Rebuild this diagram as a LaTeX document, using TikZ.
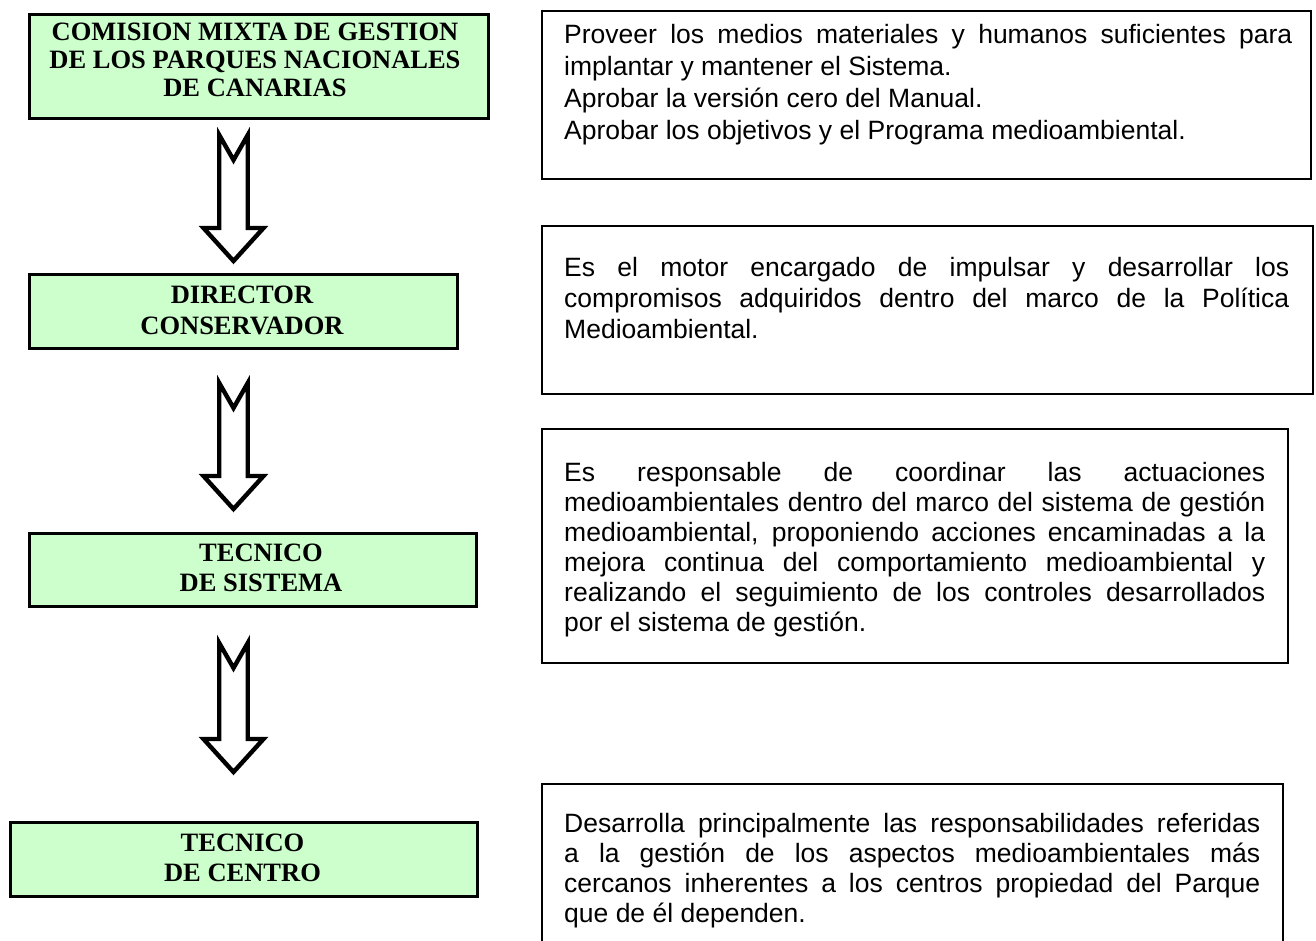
\documentclass[tikz,border=0pt]{standalone}
\usepackage{fontspec}
\setmainfont{Liberation Serif}
\newfontfamily\arialf{Liberation Sans}
\usetikzlibrary{calc}
\tolerance=10000 \hbadness=10000 \hyphenpenalty=10000 \exhyphenpenalty=10000
\definecolor{boxgreen}{HTML}{CCFFCC}
\newcommand\bodyfont[1]{\arialf\fontsize{26.5}{#1}\selectfont\tolerance=10000\hyphenpenalty=10000}
\newcommand\titlefont[1]{\bfseries\fontsize{26.5}{#1}\selectfont}
\tikzset{
  greenbox/.style={draw=black, line width=2.6pt, fill=boxgreen, rectangle, inner sep=0pt, anchor=north west},
  whitebox/.style={draw=black, line width=1.9pt, fill=white, rectangle, inner sep=0pt, anchor=north west},
  titletext/.style={align=center, inner sep=0pt},
  bodytext/.style={align=justify, inner sep=0pt, anchor=base west},
  blockarrow/.style={draw=black, line width=4.4pt, fill=white, line join=miter, miter limit=10},
}
\begin{document}
\begin{tikzpicture}[x=1pt, y=-1pt]
\useasboundingbox (0,0) rectangle (1316,940);
\clip (0,0) rectangle (1316,940);
\fill[white] (0,0) rectangle (1316,940);

% left boxes
\node[greenbox, minimum width=459pt, minimum height=104pt] (comision) at (28,13) {};
\node[greenbox, minimum width=428pt, minimum height=74pt] (director) at (28,273) {};
\node[greenbox, minimum width=447pt, minimum height=73pt] (sistema) at (28,532) {};
\node[greenbox, minimum width=467pt, minimum height=74pt] (centro) at (9,821) {};

\node[titletext, font=\titlefont{28.3}] (comisiontxt) at (255,60) {COMISION MIXTA DE GESTION\\DE LOS PARQUES NACIONALES\\DE CANARIAS};
\node[titletext, font=\titlefont{31}] (directortxt) at (242,310.5) {DIRECTOR\\CONSERVADOR};
\node[titletext, font=\titlefont{30}] (sistematxt) at (261,568) {TECNICO\\DE SISTEMA};
\node[titletext, font=\titlefont{30}] (centrotxt) at (242.5,858) {TECNICO\\DE CENTRO};

% right boxes
\node[whitebox, minimum width=769pt, minimum height=168pt] (r1) at (541,10) {};
\node[whitebox, minimum width=771pt, minimum height=168pt] (r2) at (541,225) {};
\node[whitebox, minimum width=746pt, minimum height=234pt] (r3) at (541,428) {};
\node[whitebox, minimum width=741pt, minimum height=220pt] (r4) at (541,783) {};

\node[bodytext, text width=728pt, font=\bodyfont{32}] (r1txt) at (564,43)
{Proveer los medios materiales y humanos suficientes para\linebreak
implantar y mantener el Sistema.\par
Aprobar la versión cero del Manual.\par
Aprobar los objetivos y el Programa medioambiental.};

\node[bodytext, text width=725pt, font=\bodyfont{31}] (r2txt) at (564,276)
{Es el motor encargado de impulsar y desarrollar los\linebreak
compromisos adquiridos dentro del marco de la Política\linebreak
Medioambiental.};

\node[bodytext, text width=701pt, font=\bodyfont{30}] (r3txt) at (564,481)
{Es responsable de coordinar las actuaciones\linebreak
medioambientales dentro del marco del sistema de gestión\linebreak
medioambiental, proponiendo acciones encaminadas a la\linebreak
mejora continua del comportamiento medioambiental y\linebreak
realizando el seguimiento de los controles desarrollados\linebreak
por el sistema de gestión.};

\node[bodytext, text width=696pt, font=\bodyfont{30}] (r4txt) at (564,832)
{Desarrolla principalmente las responsabilidades referidas\linebreak
a la gestión de los aspectos medioambientales más\linebreak
cercanos inherentes a los centros propiedad del Parque\linebreak
que de él dependen.};

% block arrows
\coordinate (a1) at (233.5,135);
\coordinate (a2) at (233.5,383);
\coordinate (a3) at (233.5,643);
\draw[blockarrow] ($(a1)+(-14.25,0)$) -- ++(14.25,25) -- ++(14.25,-25) -- ++(0,93) -- ++(15.75,0) -- ++(-30,33) -- ++(-30,-33) -- ++(15.75,0) -- cycle;
\draw[blockarrow] ($(a2)+(-14.25,0)$) -- ++(14.25,25) -- ++(14.25,-25) -- ++(0,93) -- ++(15.75,0) -- ++(-30,33) -- ++(-30,-33) -- ++(15.75,0) -- cycle;
\draw[blockarrow] ($(a3)+(-14.25,0)$) -- ++(14.25,25) -- ++(14.25,-25) -- ++(0,96) -- ++(15.75,0) -- ++(-30,33) -- ++(-30,-33) -- ++(15.75,0) -- cycle;
\end{tikzpicture}
\end{document}
